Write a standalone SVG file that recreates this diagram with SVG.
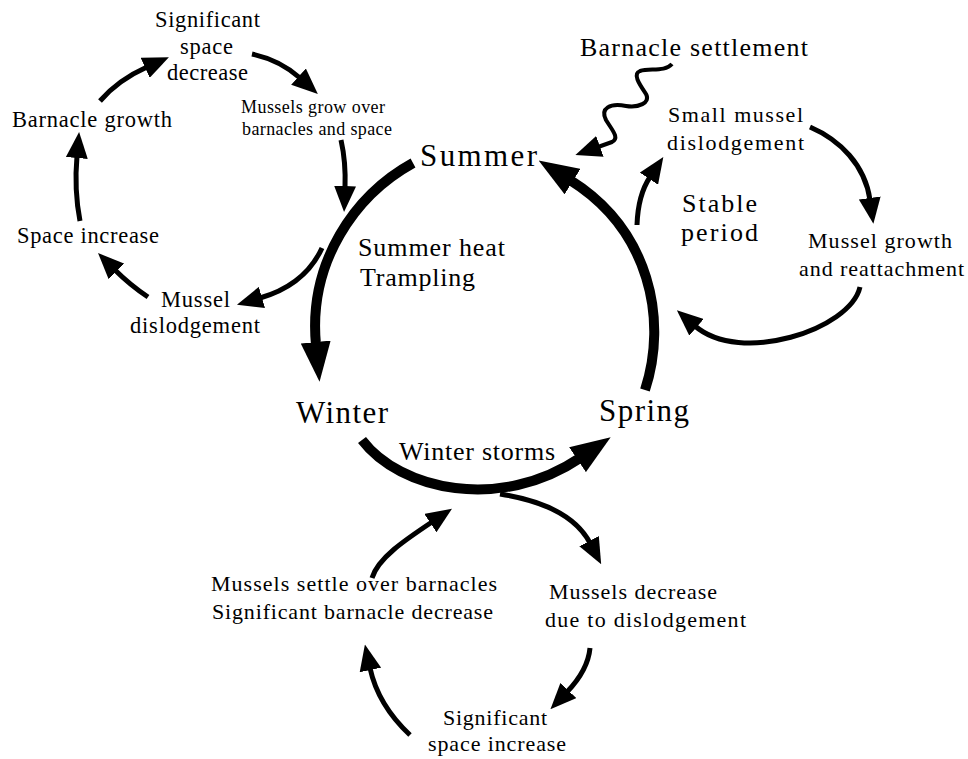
<svg xmlns="http://www.w3.org/2000/svg" width="968" height="759" viewBox="0 0 968 759">
  <style>
    text { font-family: "Liberation Serif", "Times New Roman", serif; fill: #000; }
    .s17 { font-size: 18px; }
    .s20 { font-size: 22px; }
    .s21 { font-size: 22.5px; }
    .s24 { font-size: 26px; }
    .s29 { font-size: 31px; }
    .thin { fill: none; stroke: #000; stroke-width: 5; stroke-linecap: butt; }
    .thick { fill: none; stroke: #000; stroke-width: 10; stroke-linecap: butt; }
    .wave { fill: none; stroke: #000; stroke-width: 4; stroke-linejoin: round; }
  </style>
  <defs>
    <marker id="headThin" viewBox="0 0 26 22" refX="2" refY="11" markerWidth="26" markerHeight="22" markerUnits="userSpaceOnUse" orient="auto">
      <path d="M0,0 L26,11 L0,22 z" fill="#000"/>
    </marker>
    <marker id="headThick" viewBox="0 0 40 30" refX="3" refY="15" markerWidth="40" markerHeight="30" markerUnits="userSpaceOnUse" orient="auto">
      <path d="M0,0 L40,15 L0,30 z" fill="#000"/>
    </marker>
  </defs>

  <!-- connectors -->
  <g id="connectors">
    <!-- seasonal cycle -->
    <path class="thick" d="M413,163 C355,195 308,262 316,345" marker-end="url(#headThick)"/>
    <path class="thick" d="M645,390 C668,320 650,230 570,180" marker-end="url(#headThick)"/>
    <path class="thick" d="M362,440 C400,490 500,512 580,458" marker-end="url(#headThick)"/>

    <!-- summer sub-cycle -->
    <path class="thin" d="M100,101 Q118,80 147,67" marker-end="url(#headThin)"/>
    <path class="thin" d="M252,54 Q280,60 300,78" marker-end="url(#headThin)"/>
    <path class="thin" d="M341,140 Q346,162 345,188" marker-end="url(#headThin)"/>
    <path class="thin" d="M322,248 Q305,285 260,298" marker-end="url(#headThin)"/>
    <path class="thin" d="M148,297 Q130,285 115,270" marker-end="url(#headThin)"/>
    <path class="thin" d="M80,221 Q74,190 77,156" marker-end="url(#headThin)"/>

    <!-- spring sub-cycle -->
    <path class="wave" d="M672,64 C665,72 650,68 640,71 C632,74 640,85 646,94 C651,103 638,108 626,106 C610,103 600,108 606,120 C612,130 620,138 612,142 L598,147" marker-end="url(#headThin)"/>
    <path class="thin" d="M637,225 Q638,195 650,177" marker-end="url(#headThin)"/>
    <path class="thin" d="M810,127 C840,140 865,165 870,200" marker-end="url(#headThin)"/>
    <path class="thin" d="M860,287 C850,330 740,365 695,326" marker-end="url(#headThin)"/>

    <!-- winter sub-cycle -->
    <path class="thin" d="M500,494 Q570,505 590,543" marker-end="url(#headThin)"/>
    <path class="thin" d="M590,648 Q588,670 567,692" marker-end="url(#headThin)"/>
    <path class="thin" d="M410,735 Q378,705 370,668" marker-end="url(#headThin)"/>
    <path class="thin" d="M372,578 C378,558 405,540 432,522" marker-end="url(#headThin)"/>
  </g>

  <!-- seasons -->
  <g id="summer"><text class="s29" x="420" y="166" textLength="117" lengthAdjust="spacing">Summer</text></g>
  <g id="winter"><text class="s29" x="296" y="423" textLength="92" lengthAdjust="spacing">Winter</text></g>
  <g id="spring"><text class="s29" x="599" y="421" textLength="90" lengthAdjust="spacing">Spring</text></g>

  <!-- disturbance labels -->
  <g id="summer-heat">
    <text class="s24" x="358" y="256" textLength="147" lengthAdjust="spacing">Summer heat</text>
    <text class="s24" x="360" y="286" textLength="115" lengthAdjust="spacing">Trampling</text>
  </g>
  <g id="winter-storms"><text class="s24" x="399" y="460" textLength="156" lengthAdjust="spacing">Winter storms</text></g>
  <g id="stable-period">
    <text class="s24" x="682" y="212" textLength="75" lengthAdjust="spacing">Stable</text>
    <text class="s24" x="681" y="241" textLength="77" lengthAdjust="spacing">period</text>
  </g>
  <g id="barnacle-settlement"><text class="s24" x="580" y="56" textLength="228" lengthAdjust="spacing">Barnacle settlement</text></g>

  <!-- summer sub-cycle nodes -->
  <g id="significant-space-decrease">
    <text class="s21" x="155" y="27" textLength="105" lengthAdjust="spacing">Significant</text>
    <text class="s21" x="180" y="54" textLength="53" lengthAdjust="spacing">space</text>
    <text class="s21" x="167" y="80" textLength="81" lengthAdjust="spacing">decrease</text>
  </g>
  <g id="mussels-grow-over">
    <text class="s17" x="241" y="113" textLength="144" lengthAdjust="spacing">Mussels grow over</text>
    <text class="s17" x="242" y="135" textLength="150" lengthAdjust="spacing">barnacles and space</text>
  </g>
  <g id="mussel-dislodgement">
    <text class="s21" x="161" y="307" textLength="69" lengthAdjust="spacing">Mussel</text>
    <text class="s21" x="130" y="333" textLength="130" lengthAdjust="spacing">dislodgement</text>
  </g>
  <g id="space-increase"><text class="s21" x="17" y="243" textLength="142" lengthAdjust="spacing">Space increase</text></g>
  <g id="barnacle-growth"><text class="s21" x="12" y="127" textLength="160" lengthAdjust="spacing">Barnacle growth</text></g>

  <!-- spring sub-cycle nodes -->
  <g id="small-mussel-dislodgement">
    <text class="s20" x="668" y="122" textLength="135" lengthAdjust="spacing">Small mussel</text>
    <text class="s20" x="667" y="150" textLength="137" lengthAdjust="spacing">dislodgement</text>
  </g>
  <g id="mussel-growth">
    <text class="s20" x="808" y="248" textLength="144" lengthAdjust="spacing">Mussel growth</text>
    <text class="s20" x="799" y="276" textLength="165" lengthAdjust="spacing">and reattachment</text>
  </g>

  <!-- winter sub-cycle nodes -->
  <g id="mussels-decrease">
    <text class="s20" x="549" y="599" textLength="168" lengthAdjust="spacing">Mussels decrease</text>
    <text class="s20" x="545" y="627" textLength="201" lengthAdjust="spacing">due to dislodgement</text>
  </g>
  <g id="significant-space-increase">
    <text class="s20" x="443" y="725" textLength="104" lengthAdjust="spacing">Significant</text>
    <text class="s20" x="428" y="751" textLength="138" lengthAdjust="spacing">space increase</text>
  </g>
  <g id="mussels-settle">
    <text class="s20" x="211" y="591" textLength="286" lengthAdjust="spacing">Mussels settle over barnacles</text>
    <text class="s20" x="212" y="619" textLength="281" lengthAdjust="spacing">Significant barnacle decrease</text>
  </g>
</svg>
